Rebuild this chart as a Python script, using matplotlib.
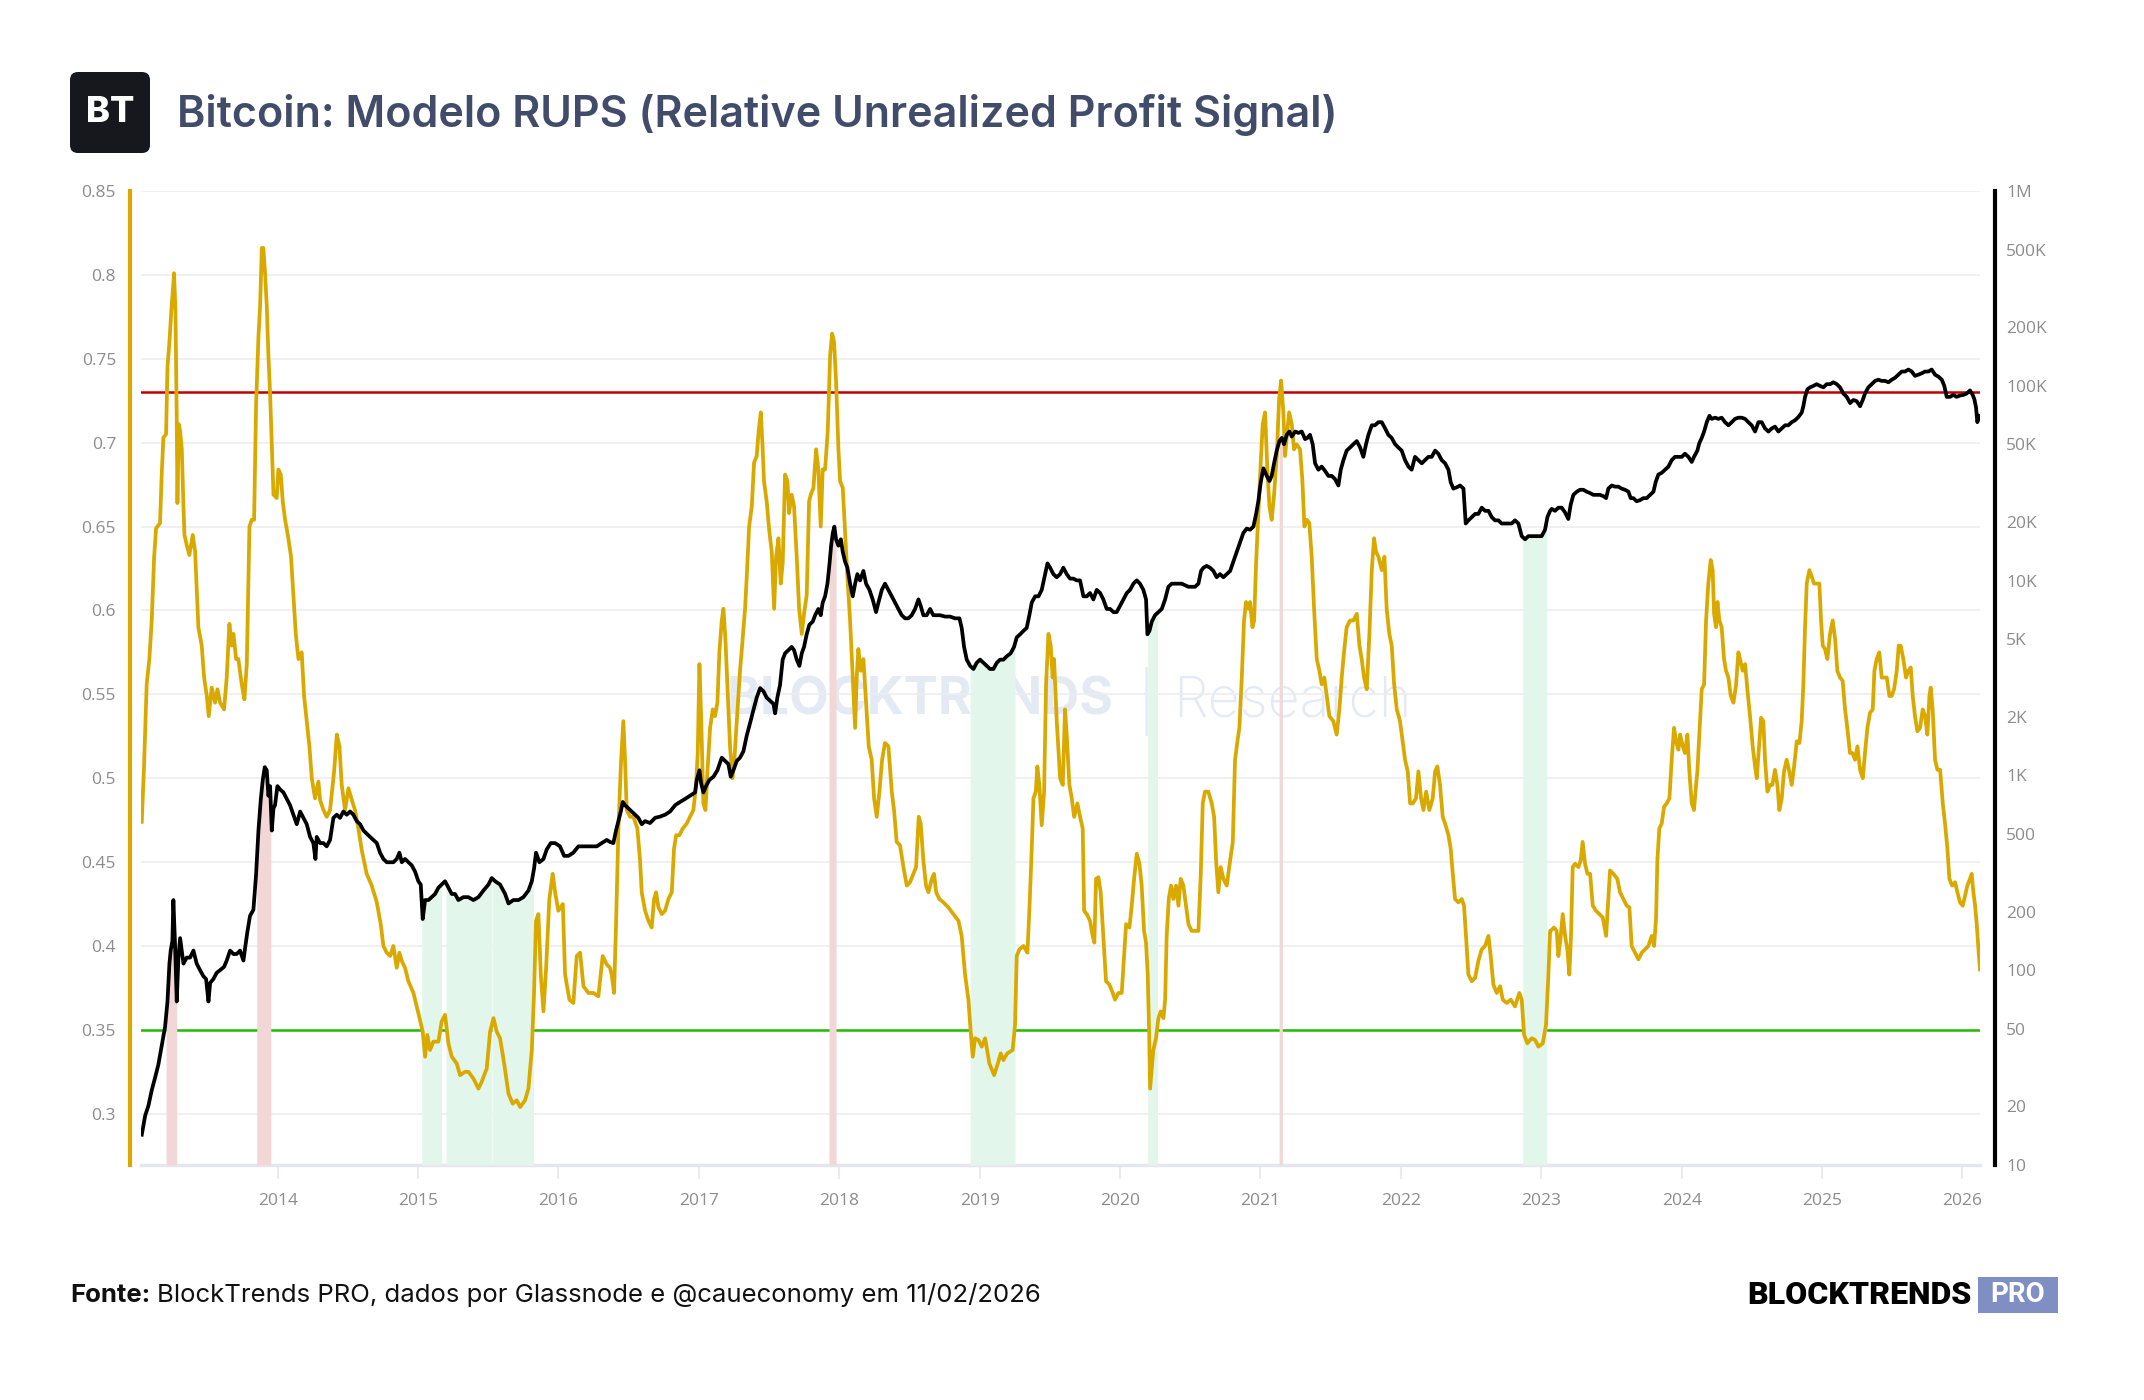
import numpy as np
import matplotlib
matplotlib.use("Agg")
import matplotlib.pyplot as plt
from matplotlib.patches import FancyBboxPatch

# RUPS (gold line), decimal year -> value
RUPS_YEAR = [
    2013.032, 2013.048, 2013.067, 2013.086, 2013.103, 2013.120, 2013.134, 2013.162, 2013.174, 2013.186,
    2013.205, 2013.215, 2013.229, 2013.245, 2013.253, 2013.262, 2013.272, 2013.281, 2013.286, 2013.295,
    2013.305, 2013.317, 2013.329, 2013.336, 2013.352, 2013.371, 2013.395, 2013.412, 2013.435, 2013.459,
    2013.476, 2013.495, 2013.509, 2013.530, 2013.554, 2013.571, 2013.590, 2013.618, 2013.637, 2013.656,
    2013.673, 2013.685, 2013.704, 2013.720, 2013.744, 2013.763, 2013.780, 2013.799, 2013.815, 2013.832,
    2013.846, 2013.863, 2013.875, 2013.887, 2013.898, 2013.910, 2013.922, 2013.934, 2013.946, 2013.958,
    2013.970, 2013.993, 2014.005, 2014.022, 2014.036, 2014.053, 2014.076, 2014.095, 2014.112, 2014.129,
    2014.148, 2014.171, 2014.188, 2014.207, 2014.226, 2014.243, 2014.266, 2014.290, 2014.302, 2014.326,
    2014.349, 2014.373, 2014.402, 2014.421, 2014.440, 2014.456, 2014.480, 2014.504, 2014.528, 2014.551,
    2014.575, 2014.599, 2014.634, 2014.670, 2014.706, 2014.734, 2014.753, 2014.777, 2014.801, 2014.824,
    2014.848, 2014.867, 2014.884, 2014.907, 2014.931, 2014.967, 2015.002, 2015.033, 2015.050, 2015.066,
    2015.085, 2015.109, 2015.145, 2015.168, 2015.192, 2015.216, 2015.240, 2015.275, 2015.299, 2015.335,
    2015.359, 2015.394, 2015.430, 2015.453, 2015.489, 2015.513, 2015.537, 2015.560, 2015.584, 2015.613,
    2015.644, 2015.674, 2015.703, 2015.727, 2015.762, 2015.786, 2015.810, 2015.826, 2015.840, 2015.857,
    2015.874, 2015.893, 2015.912, 2015.935, 2015.959, 2015.976, 2015.999, 2016.031, 2016.047, 2016.078,
    2016.106, 2016.130, 2016.154, 2016.178, 2016.213, 2016.249, 2016.284, 2016.315, 2016.344, 2016.367,
    2016.379, 2016.396, 2016.410, 2016.427, 2016.444, 2016.462, 2016.474, 2016.486, 2016.510, 2016.534,
    2016.562, 2016.581, 2016.593, 2016.617, 2016.641, 2016.664, 2016.681, 2016.695, 2016.712, 2016.736,
    2016.759, 2016.783, 2016.807, 2016.823, 2016.838, 2016.861, 2016.885, 2016.914, 2016.937, 2016.961,
    2016.980, 2016.992, 2017.004, 2017.016, 2017.032, 2017.047, 2017.061, 2017.080, 2017.099, 2017.115,
    2017.132, 2017.146, 2017.163, 2017.175, 2017.189, 2017.203, 2017.222, 2017.239, 2017.253, 2017.270,
    2017.293, 2017.312, 2017.329, 2017.341, 2017.358, 2017.377, 2017.393, 2017.412, 2017.426, 2017.441,
    2017.453, 2017.464, 2017.483, 2017.502, 2017.519, 2017.536, 2017.550, 2017.567, 2017.583, 2017.597,
    2017.614, 2017.631, 2017.642, 2017.661, 2017.678, 2017.697, 2017.714, 2017.733, 2017.749, 2017.768,
    2017.785, 2017.797, 2017.816, 2017.835, 2017.851, 2017.868, 2017.882, 2017.899, 2017.918, 2017.935,
    2017.949, 2017.963, 2017.977, 2017.994, 2018.006, 2018.025, 2018.041, 2018.058, 2018.077, 2018.094,
    2018.113, 2018.124, 2018.136, 2018.153, 2018.172, 2018.191, 2018.210, 2018.231, 2018.248, 2018.267,
    2018.286, 2018.305, 2018.326, 2018.350, 2018.374, 2018.390, 2018.409, 2018.433, 2018.457, 2018.481,
    2018.504, 2018.528, 2018.547, 2018.566, 2018.580, 2018.599, 2018.618, 2018.635, 2018.659, 2018.675,
    2018.690, 2018.713, 2018.742, 2018.777, 2018.813, 2018.849, 2018.872, 2018.896, 2018.920, 2018.936,
    2018.951, 2018.967, 2018.991, 2019.015, 2019.039, 2019.069, 2019.103, 2019.126, 2019.150, 2019.169,
    2019.197, 2019.235, 2019.252, 2019.264, 2019.283, 2019.312, 2019.340, 2019.354, 2019.371, 2019.383,
    2019.400, 2019.411, 2019.425, 2019.442, 2019.459, 2019.473, 2019.490, 2019.506, 2019.520, 2019.530,
    2019.549, 2019.573, 2019.592, 2019.608, 2019.620, 2019.639, 2019.656, 2019.673, 2019.696, 2019.715,
    2019.734, 2019.744, 2019.763, 2019.786, 2019.805, 2019.817, 2019.829, 2019.846, 2019.862, 2019.881,
    2019.900, 2019.924, 2019.948, 2019.964, 2019.988, 2020.012, 2020.029, 2020.043, 2020.067, 2020.083,
    2020.100, 2020.119, 2020.138, 2020.154, 2020.171, 2020.185, 2020.197, 2020.207, 2020.214, 2020.226,
    2020.237, 2020.256, 2020.273, 2020.290, 2020.309, 2020.321, 2020.332, 2020.347, 2020.363, 2020.380,
    2020.399, 2020.416, 2020.432, 2020.451, 2020.470, 2020.487, 2020.510, 2020.534, 2020.558, 2020.575,
    2020.589, 2020.605, 2020.629, 2020.653, 2020.670, 2020.684, 2020.700, 2020.717, 2020.736, 2020.760,
    2020.784, 2020.803, 2020.819, 2020.836, 2020.850, 2020.867, 2020.883, 2020.897, 2020.914, 2020.926,
    2020.943, 2020.955, 2020.969, 2020.985, 2021.002, 2021.016, 2021.033, 2021.049, 2021.064, 2021.080,
    2021.097, 2021.116, 2021.133, 2021.147, 2021.163, 2021.175, 2021.187, 2021.204, 2021.223, 2021.239,
    2021.258, 2021.282, 2021.299, 2021.313, 2021.330, 2021.348, 2021.365, 2021.382, 2021.401, 2021.420,
    2021.436, 2021.455, 2021.472, 2021.491, 2021.519, 2021.543, 2021.562, 2021.579, 2021.595, 2021.614,
    2021.638, 2021.662, 2021.686, 2021.705, 2021.721, 2021.738, 2021.757, 2021.776, 2021.793, 2021.809,
    2021.823, 2021.840, 2021.864, 2021.883, 2021.899, 2021.918, 2021.935, 2021.952, 2021.971, 2021.994,
    2022.013, 2022.030, 2022.049, 2022.066, 2022.085, 2022.108, 2022.125, 2022.144, 2022.161, 2022.180,
    2022.203, 2022.227, 2022.244, 2022.260, 2022.279, 2022.298, 2022.315, 2022.339, 2022.355, 2022.370,
    2022.386, 2022.410, 2022.434, 2022.450, 2022.464, 2022.481, 2022.505, 2022.529, 2022.552, 2022.576,
    2022.600, 2022.624, 2022.640, 2022.659, 2022.683, 2022.707, 2022.726, 2022.754, 2022.783, 2022.813,
    2022.844, 2022.861, 2022.878, 2022.901, 2022.932, 2022.956, 2022.980, 2023.011, 2023.034, 2023.051,
    2023.063, 2023.067, 2023.091, 2023.110, 2023.122, 2023.139, 2023.153, 2023.170, 2023.186, 2023.200,
    2023.212, 2023.224, 2023.241, 2023.265, 2023.281, 2023.295, 2023.312, 2023.329, 2023.348, 2023.367,
    2023.390, 2023.414, 2023.438, 2023.462, 2023.478, 2023.490, 2023.514, 2023.542, 2023.561, 2023.585,
    2023.609, 2023.628, 2023.644, 2023.668, 2023.692, 2023.716, 2023.739, 2023.763, 2023.787, 2023.804,
    2023.818, 2023.827, 2023.841, 2023.858, 2023.875, 2023.894, 2023.913, 2023.929, 2023.946, 2023.960,
    2023.977, 2023.989, 2024.008, 2024.024, 2024.041, 2024.055, 2024.072, 2024.088, 2024.103, 2024.112,
    2024.126, 2024.143, 2024.160, 2024.174, 2024.190, 2024.207, 2024.221, 2024.231, 2024.245, 2024.255,
    2024.269, 2024.285, 2024.302, 2024.316, 2024.333, 2024.350, 2024.369, 2024.388, 2024.404, 2024.416,
    2024.435, 2024.452, 2024.468, 2024.487, 2024.506, 2024.523, 2024.535, 2024.551, 2024.566, 2024.582,
    2024.594, 2024.611, 2024.630, 2024.646, 2024.665, 2024.682, 2024.696, 2024.713, 2024.729, 2024.748,
    2024.767, 2024.784, 2024.801, 2024.820, 2024.839, 2024.855, 2024.867, 2024.879, 2024.891, 2024.910,
    2024.927, 2024.943, 2024.962, 2024.981, 2024.993, 2025.005, 2025.021, 2025.038, 2025.057, 2025.076,
    2025.093, 2025.109, 2025.128, 2025.147, 2025.164, 2025.180, 2025.199, 2025.216, 2025.235, 2025.252,
    2025.271, 2025.290, 2025.306, 2025.323, 2025.342, 2025.361, 2025.373, 2025.389, 2025.408, 2025.425,
    2025.442, 2025.461, 2025.480, 2025.496, 2025.513, 2025.532, 2025.546, 2025.560, 2025.579, 2025.598,
    2025.615, 2025.632, 2025.646, 2025.662, 2025.679, 2025.698, 2025.717, 2025.734, 2025.750, 2025.765,
    2025.774, 2025.788, 2025.805, 2025.822, 2025.841, 2025.860, 2025.876, 2025.893, 2025.907, 2025.926,
    2025.948, 2025.964, 2025.983, 2026.002, 2026.019, 2026.035, 2026.054, 2026.066, 2026.078, 2026.090,
    2026.102, 2026.114, 2026.125,
]
RUPS_VALUE = [
    0.474, 0.507, 0.556, 0.571, 0.594, 0.632, 0.649, 0.652, 0.681, 0.703,
    0.705, 0.745, 0.760, 0.782, 0.790, 0.801, 0.778, 0.714, 0.664, 0.711,
    0.707, 0.696, 0.662, 0.645, 0.639, 0.633, 0.645, 0.635, 0.590, 0.579,
    0.560, 0.549, 0.537, 0.554, 0.545, 0.553, 0.545, 0.541, 0.560, 0.592,
    0.579, 0.586, 0.571, 0.571, 0.556, 0.547, 0.568, 0.650, 0.654, 0.654,
    0.722, 0.763, 0.782, 0.816, 0.816, 0.801, 0.782, 0.752, 0.729, 0.699,
    0.669, 0.667, 0.684, 0.681, 0.665, 0.654, 0.643, 0.632, 0.609, 0.586,
    0.571, 0.575, 0.549, 0.534, 0.519, 0.500, 0.488, 0.498, 0.487, 0.481,
    0.477, 0.481, 0.504, 0.526, 0.519, 0.496, 0.481, 0.494, 0.487, 0.481,
    0.470, 0.457, 0.443, 0.436, 0.426, 0.413, 0.400, 0.396, 0.394, 0.400,
    0.387, 0.396, 0.391, 0.387, 0.379, 0.372, 0.360, 0.349, 0.334, 0.347,
    0.338, 0.343, 0.343, 0.355, 0.359, 0.342, 0.334, 0.330, 0.323, 0.325,
    0.325, 0.321, 0.315, 0.319, 0.327, 0.349, 0.357, 0.349, 0.345, 0.330,
    0.312, 0.306, 0.308, 0.304, 0.308, 0.315, 0.338, 0.372, 0.415, 0.419,
    0.383, 0.361, 0.387, 0.428, 0.443, 0.432, 0.421, 0.425, 0.383, 0.368,
    0.366, 0.394, 0.396, 0.376, 0.372, 0.372, 0.370, 0.394, 0.389, 0.387,
    0.383, 0.372, 0.413, 0.470, 0.507, 0.534, 0.511, 0.481, 0.477, 0.477,
    0.470, 0.451, 0.432, 0.421, 0.415, 0.411, 0.428, 0.432, 0.423, 0.419,
    0.421, 0.428, 0.432, 0.458, 0.466, 0.466, 0.470, 0.473, 0.477, 0.481,
    0.496, 0.515, 0.568, 0.537, 0.485, 0.481, 0.504, 0.530, 0.541, 0.537,
    0.545, 0.575, 0.594, 0.601, 0.583, 0.556, 0.519, 0.500, 0.511, 0.534,
    0.564, 0.583, 0.601, 0.620, 0.650, 0.662, 0.688, 0.692, 0.707, 0.718,
    0.699, 0.677, 0.665, 0.647, 0.635, 0.601, 0.632, 0.643, 0.616, 0.628,
    0.681, 0.677, 0.658, 0.669, 0.662, 0.632, 0.601, 0.586, 0.598, 0.609,
    0.665, 0.669, 0.673, 0.696, 0.684, 0.650, 0.684, 0.684, 0.707, 0.752,
    0.765, 0.760, 0.737, 0.696, 0.677, 0.673, 0.647, 0.620, 0.594, 0.564,
    0.530, 0.560, 0.577, 0.564, 0.571, 0.545, 0.519, 0.511, 0.488, 0.477,
    0.492, 0.511, 0.521, 0.519, 0.492, 0.481, 0.462, 0.460, 0.447, 0.436,
    0.438, 0.443, 0.447, 0.477, 0.473, 0.451, 0.436, 0.432, 0.440, 0.443,
    0.432, 0.428, 0.426, 0.423, 0.419, 0.415, 0.406, 0.383, 0.368, 0.349,
    0.334, 0.345, 0.344, 0.340, 0.345, 0.330, 0.323, 0.329, 0.336, 0.332,
    0.336, 0.338, 0.353, 0.394, 0.398, 0.400, 0.396, 0.421, 0.458, 0.488,
    0.492, 0.507, 0.496, 0.472, 0.492, 0.556, 0.586, 0.579, 0.560, 0.571,
    0.534, 0.500, 0.496, 0.541, 0.526, 0.496, 0.488, 0.477, 0.485, 0.477,
    0.470, 0.421, 0.419, 0.415, 0.406, 0.402, 0.440, 0.441, 0.432, 0.406,
    0.379, 0.377, 0.372, 0.368, 0.372, 0.372, 0.394, 0.413, 0.411, 0.424,
    0.440, 0.455, 0.449, 0.436, 0.409, 0.402, 0.383, 0.349, 0.315, 0.327,
    0.338, 0.345, 0.357, 0.361, 0.357, 0.368, 0.406, 0.428, 0.436, 0.428,
    0.436, 0.424, 0.440, 0.436, 0.424, 0.413, 0.409, 0.409, 0.409, 0.443,
    0.485, 0.492, 0.492, 0.485, 0.477, 0.451, 0.432, 0.447, 0.440, 0.436,
    0.451, 0.462, 0.511, 0.522, 0.530, 0.560, 0.594, 0.605, 0.601, 0.605,
    0.590, 0.594, 0.628, 0.658, 0.688, 0.711, 0.718, 0.684, 0.662, 0.654,
    0.669, 0.692, 0.726, 0.737, 0.718, 0.692, 0.703, 0.718, 0.711, 0.696,
    0.699, 0.696, 0.677, 0.650, 0.654, 0.652, 0.632, 0.601, 0.571, 0.564,
    0.556, 0.560, 0.549, 0.537, 0.534, 0.526, 0.541, 0.560, 0.575, 0.590,
    0.594, 0.594, 0.598, 0.579, 0.571, 0.560, 0.553, 0.586, 0.624, 0.643,
    0.635, 0.632, 0.624, 0.632, 0.601, 0.586, 0.579, 0.556, 0.541, 0.534,
    0.522, 0.511, 0.504, 0.485, 0.485, 0.488, 0.504, 0.488, 0.481, 0.492,
    0.481, 0.488, 0.504, 0.507, 0.496, 0.477, 0.473, 0.466, 0.458, 0.443,
    0.428, 0.426, 0.428, 0.424, 0.406, 0.383, 0.379, 0.381, 0.391, 0.398,
    0.400, 0.406, 0.394, 0.377, 0.372, 0.376, 0.368, 0.366, 0.368, 0.364,
    0.372, 0.368, 0.347, 0.342, 0.345, 0.344, 0.340, 0.342, 0.353, 0.383,
    0.409, 0.409, 0.411, 0.409, 0.394, 0.406, 0.419, 0.406, 0.398, 0.383,
    0.406, 0.447, 0.449, 0.447, 0.451, 0.462, 0.449, 0.443, 0.443, 0.424,
    0.421, 0.419, 0.417, 0.406, 0.428, 0.445, 0.443, 0.440, 0.432, 0.428,
    0.424, 0.423, 0.400, 0.396, 0.392, 0.396, 0.398, 0.400, 0.406, 0.400,
    0.417, 0.451, 0.470, 0.473, 0.483, 0.485, 0.488, 0.511, 0.530, 0.522,
    0.517, 0.526, 0.519, 0.515, 0.526, 0.504, 0.485, 0.481, 0.496, 0.504,
    0.526, 0.553, 0.556, 0.594, 0.616, 0.630, 0.624, 0.598, 0.590, 0.605,
    0.594, 0.590, 0.571, 0.564, 0.560, 0.549, 0.545, 0.556, 0.575, 0.571,
    0.564, 0.568, 0.553, 0.537, 0.519, 0.507, 0.500, 0.519, 0.536, 0.534,
    0.511, 0.492, 0.496, 0.496, 0.505, 0.496, 0.481, 0.488, 0.504, 0.511,
    0.504, 0.496, 0.507, 0.522, 0.521, 0.534, 0.556, 0.590, 0.616, 0.624,
    0.620, 0.616, 0.616, 0.616, 0.594, 0.579, 0.577, 0.571, 0.586, 0.594,
    0.583, 0.564, 0.560, 0.558, 0.541, 0.530, 0.515, 0.515, 0.511, 0.519,
    0.505, 0.500, 0.515, 0.530, 0.539, 0.541, 0.564, 0.571, 0.575, 0.560,
    0.560, 0.560, 0.549, 0.549, 0.553, 0.564, 0.579, 0.579, 0.571, 0.560,
    0.564, 0.566, 0.549, 0.537, 0.528, 0.530, 0.541, 0.537, 0.526, 0.549,
    0.554, 0.541, 0.511, 0.505, 0.505, 0.485, 0.473, 0.458, 0.440, 0.436,
    0.438, 0.432, 0.426, 0.424, 0.430, 0.436, 0.440, 0.443, 0.432, 0.424,
    0.413, 0.398, 0.386,
]

# Bitcoin price (black line, right log axis), decimal year -> USD
PRICE_YEAR = [
    2013.032, 2013.056, 2013.079, 2013.103, 2013.127, 2013.150, 2013.174, 2013.198, 2013.215, 2013.229,
    2013.238, 2013.250, 2013.257, 2013.269, 2013.281, 2013.293, 2013.305, 2013.317, 2013.329, 2013.352,
    2013.376, 2013.400, 2013.423, 2013.447, 2013.471, 2013.490, 2013.507, 2013.519, 2013.542, 2013.566,
    2013.590, 2013.618, 2013.637, 2013.661, 2013.685, 2013.708, 2013.732, 2013.756, 2013.768, 2013.784,
    2013.803, 2013.827, 2013.846, 2013.863, 2013.880, 2013.894, 2013.908, 2013.922, 2013.934, 2013.946,
    2013.958, 2013.970, 2013.981, 2013.998, 2014.017, 2014.041, 2014.065, 2014.088, 2014.112, 2014.136,
    2014.160, 2014.183, 2014.207, 2014.231, 2014.254, 2014.269, 2014.278, 2014.302, 2014.326, 2014.349,
    2014.373, 2014.397, 2014.421, 2014.444, 2014.468, 2014.492, 2014.516, 2014.539, 2014.563, 2014.587,
    2014.611, 2014.634, 2014.658, 2014.682, 2014.706, 2014.729, 2014.753, 2014.777, 2014.801, 2014.824,
    2014.848, 2014.867, 2014.884, 2014.907, 2014.931, 2014.955, 2014.979, 2015.002, 2015.019, 2015.033,
    2015.050, 2015.074, 2015.097, 2015.121, 2015.145, 2015.168, 2015.192, 2015.216, 2015.240, 2015.263,
    2015.287, 2015.323, 2015.358, 2015.394, 2015.430, 2015.465, 2015.501, 2015.525, 2015.549, 2015.584,
    2015.620, 2015.644, 2015.679, 2015.715, 2015.750, 2015.786, 2015.810, 2015.826, 2015.840, 2015.864,
    2015.893, 2015.916, 2015.945, 2015.976, 2016.011, 2016.040, 2016.071, 2016.106, 2016.142, 2016.178,
    2016.225, 2016.273, 2016.308, 2016.344, 2016.367, 2016.391, 2016.410, 2016.427, 2016.444, 2016.458,
    2016.474, 2016.498, 2016.522, 2016.546, 2016.569, 2016.593, 2016.617, 2016.652, 2016.688, 2016.724,
    2016.759, 2016.795, 2016.831, 2016.866, 2016.902, 2016.937, 2016.973, 2016.985, 2017.004, 2017.016,
    2017.032, 2017.051, 2017.075, 2017.104, 2017.132, 2017.163, 2017.187, 2017.210, 2017.227, 2017.246,
    2017.270, 2017.293, 2017.317, 2017.341, 2017.365, 2017.388, 2017.412, 2017.436, 2017.460, 2017.483,
    2017.507, 2017.531, 2017.543, 2017.559, 2017.578, 2017.597, 2017.614, 2017.638, 2017.661, 2017.678,
    2017.697, 2017.716, 2017.733, 2017.749, 2017.768, 2017.787, 2017.811, 2017.828, 2017.851, 2017.868,
    2017.882, 2017.899, 2017.916, 2017.930, 2017.942, 2017.954, 2017.965, 2017.977, 2017.994, 2018.011,
    2018.025, 2018.041, 2018.058, 2018.077, 2018.096, 2018.113, 2018.129, 2018.148, 2018.172, 2018.191,
    2018.215, 2018.238, 2018.262, 2018.279, 2018.303, 2018.326, 2018.350, 2018.374, 2018.397, 2018.421,
    2018.445, 2018.469, 2018.492, 2018.516, 2018.540, 2018.564, 2018.580, 2018.599, 2018.623, 2018.647,
    2018.670, 2018.694, 2018.718, 2018.754, 2018.789, 2018.825, 2018.856, 2018.872, 2018.889, 2018.908,
    2018.932, 2018.956, 2018.979, 2019.003, 2019.027, 2019.051, 2019.074, 2019.098, 2019.122, 2019.145,
    2019.169, 2019.193, 2019.221, 2019.245, 2019.264, 2019.288, 2019.311, 2019.335, 2019.354, 2019.371,
    2019.395, 2019.419, 2019.442, 2019.466, 2019.483, 2019.502, 2019.525, 2019.549, 2019.573, 2019.596,
    2019.620, 2019.644, 2019.668, 2019.691, 2019.715, 2019.739, 2019.763, 2019.786, 2019.810, 2019.834,
    2019.858, 2019.881, 2019.905, 2019.929, 2019.953, 2019.976, 2020.000, 2020.024, 2020.048, 2020.071,
    2020.095, 2020.119, 2020.142, 2020.166, 2020.185, 2020.195, 2020.209, 2020.226, 2020.249, 2020.273,
    2020.297, 2020.321, 2020.344, 2020.368, 2020.392, 2020.439, 2020.487, 2020.534, 2020.558, 2020.577,
    2020.594, 2020.617, 2020.641, 2020.665, 2020.688, 2020.712, 2020.736, 2020.760, 2020.784, 2020.807,
    2020.831, 2020.855, 2020.878, 2020.902, 2020.926, 2020.950, 2020.969, 2020.985, 2021.002, 2021.021,
    2021.045, 2021.064, 2021.080, 2021.097, 2021.116, 2021.135, 2021.152, 2021.168, 2021.187, 2021.206,
    2021.223, 2021.247, 2021.270, 2021.294, 2021.318, 2021.334, 2021.353, 2021.372, 2021.389, 2021.413,
    2021.436, 2021.460, 2021.484, 2021.508, 2021.531, 2021.555, 2021.572, 2021.591, 2021.614, 2021.638,
    2021.662, 2021.686, 2021.710, 2021.733, 2021.752, 2021.769, 2021.793, 2021.816, 2021.840, 2021.864,
    2021.888, 2021.911, 2021.935, 2021.959, 2021.982, 2022.006, 2022.030, 2022.054, 2022.077, 2022.101,
    2022.125, 2022.149, 2022.172, 2022.196, 2022.220, 2022.244, 2022.267, 2022.291, 2022.315, 2022.339,
    2022.355, 2022.374, 2022.398, 2022.422, 2022.446, 2022.462, 2022.481, 2022.505, 2022.529, 2022.552,
    2022.576, 2022.600, 2022.624, 2022.647, 2022.671, 2022.695, 2022.718, 2022.742, 2022.790, 2022.813,
    2022.837, 2022.861, 2022.885, 2022.908, 2022.956, 2023.003, 2023.027, 2023.044, 2023.063, 2023.075,
    2023.098, 2023.122, 2023.146, 2023.170, 2023.193, 2023.210, 2023.229, 2023.253, 2023.276, 2023.300,
    2023.324, 2023.348, 2023.371, 2023.395, 2023.419, 2023.443, 2023.462, 2023.478, 2023.502, 2023.526,
    2023.549, 2023.573, 2023.597, 2023.621, 2023.637, 2023.656, 2023.680, 2023.704, 2023.727, 2023.751,
    2023.775, 2023.799, 2023.815, 2023.834, 2023.858, 2023.882, 2023.906, 2023.929, 2023.953, 2023.977,
    2024.001, 2024.024, 2024.048, 2024.072, 2024.088, 2024.112, 2024.126, 2024.143, 2024.160, 2024.179,
    2024.198, 2024.214, 2024.238, 2024.262, 2024.285, 2024.309, 2024.333, 2024.357, 2024.380, 2024.404,
    2024.428, 2024.452, 2024.475, 2024.499, 2024.523, 2024.547, 2024.570, 2024.594, 2024.618, 2024.642,
    2024.665, 2024.689, 2024.713, 2024.737, 2024.760, 2024.784, 2024.808, 2024.831, 2024.855, 2024.867,
    2024.879, 2024.896, 2024.915, 2024.938, 2024.962, 2024.986, 2025.010, 2025.033, 2025.057, 2025.081,
    2025.105, 2025.128, 2025.152, 2025.176, 2025.200, 2025.223, 2025.247, 2025.271, 2025.290, 2025.306,
    2025.330, 2025.354, 2025.378, 2025.401, 2025.425, 2025.449, 2025.473, 2025.496, 2025.520, 2025.544,
    2025.568, 2025.591, 2025.615, 2025.639, 2025.662, 2025.686, 2025.710, 2025.734, 2025.757, 2025.781,
    2025.805, 2025.829, 2025.853, 2025.871, 2025.888, 2025.912, 2025.935, 2025.959, 2025.983, 2026.007,
    2026.030, 2026.054, 2026.073, 2026.085, 2026.097, 2026.106, 2026.121,
]
PRICE_USD = [
    14.3, 17.9, 20.1, 24.2, 28.1, 32.7, 40.8, 51.2, 69.0, 108,
    126, 141, 229, 135, 69, 116, 146, 126, 108, 116,
    116, 126, 108, 100, 93, 90, 69, 86, 90, 97,
    100, 104, 112, 126, 121, 121, 126, 112, 130, 157,
    190, 204, 308, 521, 757, 948, 1102, 1062, 786, 880,
    521, 677, 703, 880, 847, 817, 757, 703, 628, 561,
    652, 605, 561, 483, 449, 372, 483, 449, 449, 432,
    466, 605, 628, 605, 652, 628, 652, 628, 582, 561,
    521, 502, 483, 466, 449, 401, 372, 358, 358, 358,
    372, 401, 358, 372, 358, 345, 320, 286, 275, 183,
    229, 229, 237, 246, 265, 275, 286, 265, 246, 246,
    229, 237, 237, 229, 237, 256, 275, 297, 286, 275,
    246, 220, 229, 229, 237, 256, 286, 332, 401, 358,
    372, 416, 449, 449, 432, 386, 386, 401, 432, 432,
    432, 432, 449, 466, 455, 449, 521, 582, 652, 730,
    703, 677, 652, 628, 605, 561, 582, 569, 605, 614,
    628, 652, 703, 730, 757, 786, 817, 948, 1062, 913,
    817, 880, 948, 984, 1062, 1232, 1186, 1143, 984, 1062,
    1186, 1232, 1327, 1600, 1858, 2158, 2506, 2805, 2703, 2506,
    2415, 2328, 2080, 2506, 2911, 3926, 4234, 4395, 4564, 4395,
    3926, 3647, 4234, 4564, 5296, 5929, 6152, 6637, 7148, 6637,
    7709, 8299, 9638, 12070, 15100, 17540, 18920, 16290, 15100, 16290,
    14030, 12530, 11640, 9638, 8299, 9638, 10790, 10020, 11200, 9638,
    8954, 8000, 6887, 7709, 8954, 9638, 8954, 8299, 7709, 7148,
    6637, 6397, 6397, 6637, 7148, 8000, 7413, 6637, 6637, 7148,
    6637, 6637, 6637, 6531, 6531, 6397, 6397, 5715, 4564, 3926,
    3647, 3516, 3784, 3926, 3784, 3647, 3516, 3516, 3784, 3926,
    3926, 4083, 4234, 4564, 5105, 5296, 5508, 5715, 6637, 7709,
    8299, 8299, 8954, 10790, 12250, 11640, 10790, 10400, 10790, 11640,
    10790, 10230, 10230, 10020, 10020, 8299, 8299, 8630, 8000, 8954,
    8630, 8000, 7148, 7148, 6887, 6887, 7413, 8000, 8630, 8954,
    9638, 10020, 9638, 8954, 8000, 5296, 5508, 6152, 6637, 6887,
    7148, 8000, 9290, 9638, 9638, 9638, 9290, 9290, 9638, 11200,
    11640, 11890, 11640, 11200, 10400, 10790, 10400, 10790, 11200, 12530,
    14030, 15700, 17540, 18490, 18230, 18920, 21980, 25530, 31990, 37680,
    34440, 32430, 34440, 39990, 46450, 51990, 53950, 50120, 55980, 58210,
    54830, 58210, 57280, 58210, 53210, 53950, 55980, 50120, 39990, 37070,
    38460, 36560, 34440, 34440, 33190, 30760, 37070, 41500, 46450, 48200,
    50120, 51990, 48200, 43150, 50120, 55980, 62660, 62660, 65010, 65010,
    60390, 55980, 53950, 50120, 48200, 46450, 41500, 38460, 37070, 43150,
    41500, 39990, 41500, 43150, 43150, 46450, 44770, 41500, 39990, 37070,
    31990, 29650, 30110, 30760, 29650, 19630, 20370, 21170, 21980, 21980,
    23660, 22800, 22800, 21170, 20370, 20370, 19630, 19630, 19630, 20370,
    19630, 16900, 16290, 16900, 16900, 16900, 18230, 21170, 22800, 23330,
    22800, 23660, 23660, 22340, 20700, 24600, 27540, 28580, 29240, 29240,
    28580, 28120, 27540, 27540, 27540, 27100, 26490, 29650, 30760, 30340,
    30340, 29650, 29240, 28580, 26490, 26490, 25530, 25880, 26490, 26490,
    27540, 28580, 31990, 34990, 35730, 37070, 38460, 41500, 43150, 43150,
    43150, 44770, 43150, 40640, 43150, 46450, 50820, 53950, 58210, 65010,
    70150, 67600, 68550, 67600, 68550, 65010, 62660, 65010, 67600, 68550,
    68550, 67600, 65010, 62660, 58210, 65010, 65010, 60390, 58210, 60390,
    61660, 58210, 60390, 62660, 62660, 65010, 66530, 69020, 72780, 78520,
    87700, 95940, 98170, 99770, 101900, 99770, 98170, 101900, 101900, 104200,
    101900, 98170, 91200, 87700, 81470, 84530, 83350, 78520, 84530, 91200,
    98170, 101900, 105900, 107400, 105900, 105900, 104200, 107400, 109900, 114000,
    118300, 118300, 121100, 118300, 112400, 114000, 115900, 118300, 118300, 121100,
    114000, 111400, 107400, 99770, 87700, 87700, 89750, 87700, 89130, 89750,
    91200, 94620, 89750, 85310, 77270, 65010, 69980,
]

RUPS_TOP = 0.73
RUPS_BOTTOM = 0.35

# periods highlighted under the price curve
RED_SPANS = [(2013.205, 2013.281), (2013.851, 2013.951), (2017.927, 2017.977), (2021.133, 2021.156)]
GREEN_SPANS = [(2015.026, 2015.168), (2015.199, 2015.525), (2015.528, 2015.822),
               (2018.932, 2019.252), (2020.197, 2020.266), (2022.868, 2023.039)]

YEARS = list(range(2014, 2027))
LEFT_TICKS = [0.3, 0.35, 0.4, 0.45, 0.5, 0.55, 0.6, 0.65, 0.7, 0.75, 0.8, 0.85]
RIGHT_TICKS = [10, 20, 50, 100, 200, 500, 1e3, 2e3, 5e3, 1e4, 2e4, 5e4, 1e5, 2e5, 5e5, 1e6]
RIGHT_LABELS = ["10", "20", "50", "100", "200", "500", "1K", "2K", "5K", "10K",
                "20K", "50K", "100K", "200K", "500K", "1M"]

GOLD = "#d9a900"
TICK_GRAY = "#8c8c8c"
LIGHT = "#e6e7ee"
WATERMARK = "#e4eaf3"

plt.rcParams["font.family"] = ["Open Sans", "DejaVu Sans"]

fig = plt.figure(figsize=(21.44, 14), dpi=100)
ax = fig.add_axes([0.0658, 0.1679, 0.8577, 0.6957])
ax2 = ax.twinx()

# grid + thresholds on the RUPS axis
ax.set_yticks(LEFT_TICKS)
ax.set_yticklabels([f"{t:g}" for t in LEFT_TICKS])
ax.yaxis.grid(True, color="#ededf0", lw=1.2)
ax.set_axisbelow(True)
ax.axhline(RUPS_TOP, color="#c00000", lw=1.8, zorder=2)
ax.axhline(RUPS_BOTTOM, color="#22bb00", lw=1.8, zorder=2)

# watermark
ax.text(0.4236, 0.476, "BLOCKTRENDS", transform=ax.transAxes, fontsize=37, fontweight="bold",
        family="Inter", color=WATERMARK, ha="center", va="center", zorder=0.5)
ax.text(0.5465, 0.476, "|", transform=ax.transAxes, fontsize=42, fontweight="light",
        family="Inter", color=WATERMARK, ha="center", va="center", zorder=0.5)
ax.text(0.626, 0.476, "Research", transform=ax.transAxes, fontsize=40, fontweight="light",
        family="Inter", color=WATERMARK, ha="center", va="center", zorder=0.5)

# price axis
ax2.set_yscale("log")

p_year = np.array(PRICE_YEAR)
p_log = np.log10(np.array(PRICE_USD))


def shade(spans, color):
    for a, b in spans:
        inner = p_year[(p_year > a) & (p_year < b)]
        xs = np.concatenate([[a], inner, [b]])
        ys = 10 ** np.interp(xs, p_year, p_log)
        ax2.fill_between(xs, 10, ys, color=color, lw=0, zorder=1)


shade(RED_SPANS, "#f3d7d7")
shade(GREEN_SPANS, "#e2f6ec")

ax2.plot(RUPS_YEAR, RUPS_VALUE, color=GOLD, lw=2.7, zorder=3, transform=ax.transData,
         solid_joinstyle="round")
ax2.plot(PRICE_YEAR, PRICE_USD, color="black", lw=2.7, zorder=4, solid_joinstyle="round")

ax2.set_ylim(10, 1e6)
ax.set_ylim(0.2695, 0.85)
ax.set_xlim(2013.027, 2026.125)

ax2.yaxis.set_major_locator(matplotlib.ticker.FixedLocator(RIGHT_TICKS))
ax2.yaxis.set_minor_locator(matplotlib.ticker.NullLocator())
ax2.set_yticklabels(RIGHT_LABELS)

# spines
for s in ("top", "right"):
    ax.spines[s].set_visible(False)
for s in ("top", "left", "bottom"):
    ax2.spines[s].set_visible(False)
ax.spines["left"].set_position(("outward", 8))
ax.spines["left"].set_color(GOLD)
ax.spines["left"].set_linewidth(3)
ax2.spines["right"].set_position(("outward", 11))
ax2.spines["right"].set_color("black")
ax2.spines["right"].set_linewidth(3)
ax.spines["bottom"].set_color(LIGHT)
ax.spines["bottom"].set_linewidth(2.5)

ax.set_xticks(YEARS)
ax.set_xticklabels([str(y) for y in YEARS])
ax.tick_params(axis="x", length=10, width=1.2, color=LIGHT, pad=10, labelsize=12.5,
               labelcolor=TICK_GRAY)
ax.tick_params(axis="y", length=0, pad=10, labelsize=12.5, labelcolor=TICK_GRAY)
ax2.tick_params(axis="y", which="both", length=0, pad=8, labelsize=12.5, labelcolor=TICK_GRAY)

# header
logo = FancyBboxPatch((0.70, 12.47), 0.80, 0.81, boxstyle="round,pad=0,rounding_size=0.08",
                      transform=fig.dpi_scale_trans, facecolor="#16181d", edgecolor="none")
fig.patches.append(logo)
fig.text(0.0513, 0.9196, "BT", color="white", fontsize=26, fontweight="heavy", family="Inter",
         ha="center", va="center")
fig.text(0.0825, 0.918, "Bitcoin: Modelo RUPS (Relative Unrealized Profit Signal)",
         color="#414c6b", fontsize=31, fontweight="semibold", family="Inter", ha="left", va="center")

# footer
fonte = fig.text(0.0326, 0.075, "Fonte:", color="#111111", fontsize=18.5, fontweight="bold",
                 family="Inter", ha="left", va="center")
renderer = fig.canvas.get_renderer()
bb = fonte.get_window_extent(renderer)
fig.text(bb.x1 / fig.bbox.width + 0.003, 0.075,
         "BlockTrends PRO, dados por Glassnode e @caueconomy em 11/02/2026",
         color="#111111", fontsize=18.5, family="Inter", ha="left", va="center")

fig.text(0.9195, 0.075, "BLOCKTRENDS", color="black", fontsize=23, fontweight="heavy",
         family="Roboto", ha="right", va="center")
pro = FancyBboxPatch((19.78, 0.87), 0.80, 0.36, boxstyle="square,pad=0",
                     transform=fig.dpi_scale_trans, facecolor="#7f8ec3", edgecolor="none")
fig.patches.append(pro)
fig.text(0.9412, 0.075, "PRO", color="white", fontsize=20, fontweight="bold",
         family="Roboto", ha="center", va="center")

fig.savefig("out.png", dpi=100, facecolor="white")
